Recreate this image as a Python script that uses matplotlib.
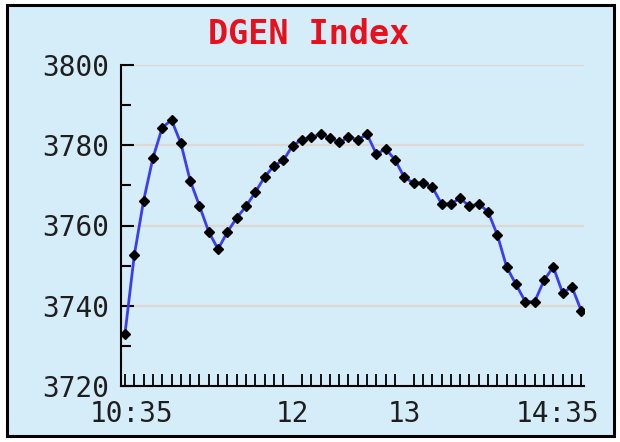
import numpy as np
import matplotlib
matplotlib.use("Agg")
import matplotlib.pyplot as plt
from matplotlib.patches import Rectangle

# index values, one point every 5 minutes
minutes = np.arange(0, 250, 5)
values = [3733.0, 3752.6, 3766.2, 3776.8, 3784.4, 3786.3, 3780.5, 3771.2, 3764.9, 3758.4,
          3754.1, 3758.4, 3761.9, 3764.8, 3768.3, 3772.1, 3774.9, 3776.2, 3779.9, 3781.4,
          3782.0, 3782.7, 3781.9, 3780.7, 3782.0, 3781.4, 3782.7, 3777.8, 3779.1, 3776.4,
          3772.0, 3770.6, 3770.6, 3769.6, 3765.4, 3765.4, 3766.8, 3764.8, 3765.4, 3763.4,
          3757.6, 3749.6, 3745.3, 3741.0, 3741.0, 3746.3, 3749.7, 3743.2, 3744.7, 3738.8]
label_pos = [3.8, 90, 150, 232.5]
label_text = ["10:35", "12", "13", "14:35"]
y_major = [3720, 3740, 3760, 3780, 3800]

bg = "#d4edf9"
mono = ["DejaVu Sans Mono"]

fig = plt.figure(figsize=(6.2, 4.42), dpi=100, facecolor="white")
fig.patches.append(Rectangle((6.5 / 620, 1 - 436 / 442), 607 / 620, 431 / 442,
                             transform=fig.transFigure, facecolor=bg,
                             edgecolor="black", lw=2.2, zorder=-5))

ax = fig.add_axes([120.7 / 620, 1 - 386 / 442, (584 - 120.7) / 620, (386 - 65) / 442])
ax.set_zorder(2)
ax.set_facecolor(bg)

for v in y_major[1:]:
    ax.axhline(v, color="#ddd8d4", lw=1.6, zorder=1)

ax.plot(minutes, values, color="#3c3cf0", lw=2.0, zorder=2)
ax.plot(minutes, values, ls="none", marker="D", ms=4.8, color="black", zorder=3)

ax.set_xlim(-2.3, 246.5)
ax.set_ylim(3720, 3800)

for s in ["top", "right"]:
    ax.spines[s].set_visible(False)
for s in ["left", "bottom"]:
    ax.spines[s].set_linewidth(1.5)
    ax.spines[s].set_color("black")

ax.set_yticks(y_major)
ax.set_yticks(np.arange(3730, 3800, 20), minor=True)
ax.tick_params(axis="y", which="major", direction="in", length=9.5, width=1.5, pad=8)
ax.tick_params(axis="y", which="minor", direction="in", length=7, width=1.5)

ax.set_xticks(label_pos)
ax.set_xticklabels(label_text)
ax.set_xticks(minutes, minor=True)
ax.tick_params(axis="x", which="major", length=0, pad=10)
ax.tick_params(axis="x", which="minor", direction="in", length=9, width=1.3)

for lab in ax.get_yticklabels() + ax.get_xticklabels():
    lab.set_family(mono)
    lab.set_fontsize(20)
    lab.set_color("#1e1e1e")

fig.text(309 / 620, 1 - 35 / 442, "DGEN Index", color="#e8101c", family=mono,
         fontweight="bold", fontsize=24, ha="center", va="center", zorder=3)

fig.savefig("out.png", dpi=100, facecolor="white")
